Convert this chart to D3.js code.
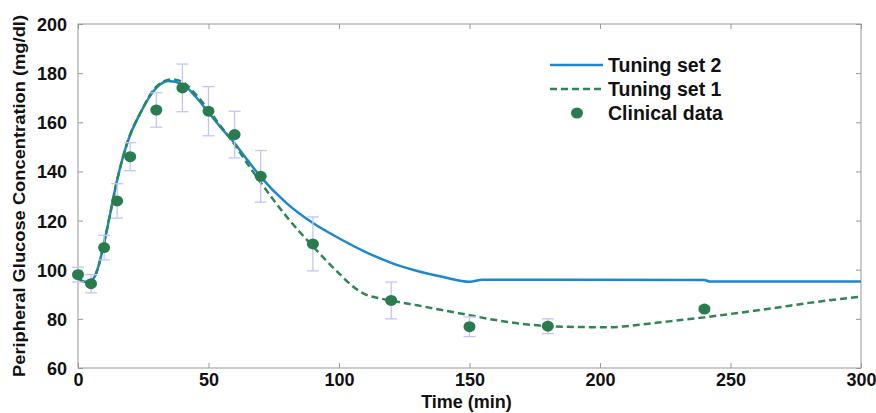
<!DOCTYPE html>
<html>
<head>
<meta charset="utf-8">
<script src="https://cdn.jsdelivr.net/npm/d3@7"></script>
<style>
  body { margin: 0; background: #fff; }
  text { font-family: "Liberation Sans", Arial, sans-serif; font-weight: bold; fill: #111; }
</style>
</head>
<body>
<div id="chart"></div>
<script>
// clinical data (time, mean, error)
const clinTime = [0, 5, 10, 15, 20, 30, 40, 50, 60, 70, 90, 120, 150, 180, 240];
const clinValue = [98, 94.3, 109, 128, 146, 165, 174, 164.5, 155, 138, 110.5, 87.5, 76.8, 77, 84];
const clinErr = [3, 3.7, 5, 7, 5.7, 7, 9.7, 10, 9.5, 10.5, 11, 7.5, 4, 3, 1];

// Tuning set 2 (blue solid)
const set2Time = [0, 2, 4, 6, 8, 10, 12, 15, 19, 24, 30, 34.5, 40, 45, 50, 55, 60, 65, 70, 80, 90, 100, 110, 120, 130, 140, 150, 155, 186, 240, 242, 300];
const set2Value = [97, 95.2, 95, 96.5, 102, 111, 121, 136.5, 152, 164, 174, 176.8, 175.5, 170.5, 164, 157.5, 151.5, 144.5, 137.8, 127, 119, 112.8, 107.3, 102.8, 99.5, 97, 95.1, 95.9, 95.9, 95.8, 95.2, 95.2];

// Tuning set 1 (green dashed)
const set1Time = [0, 2, 4, 6, 8, 10, 12, 15, 19, 24, 30, 36, 40, 45, 50, 55, 60, 65, 70, 80, 90, 100, 105, 110, 115, 120, 130, 140, 150, 160, 170, 180, 190, 204, 210, 220, 230, 240, 250, 266, 280, 300];
const set1Value = [97, 95.2, 95, 96.5, 102, 111, 121, 136.5, 152, 164, 174.5, 177.5, 176.5, 171.5, 165, 158, 151, 143, 135.5, 121.5, 109.5, 98.5, 93.5, 90, 88.5, 87.4, 85.5, 83.5, 81.5, 79.5, 78, 77, 76.7, 76.6, 77, 78.2, 79.4, 80.6, 82, 84.3, 86.5, 89];

const xTicks = [0, 50, 100, 150, 200, 250, 300];
const yTicks = [60, 80, 100, 120, 140, 160, 180, 200];

const W = 876, H = 413;
const margin = {top: 24, right: 15, bottom: 45, left: 78};

const svg = d3.select("#chart").append("svg")
    .attr("width", W)
    .attr("height", H);

const x = d3.scaleLinear().domain([0, 300]).range([margin.left, W - margin.right]);
const y = d3.scaleLinear().domain([60, 200]).range([H - margin.bottom, margin.top]);

// box + inward ticks
const axisColor = "#999";
svg.append("rect")
    .attr("x", x(0)).attr("y", y(200))
    .attr("width", x(300) - x(0)).attr("height", y(60) - y(200))
    .attr("fill", "none").attr("stroke", axisColor).attr("stroke-width", 1);

const tickLen = 5;
const xAxisB = svg.append("g").attr("transform", `translate(0,${y(60)})`)
    .call(d3.axisBottom(x).tickValues(xTicks).tickSizeInner(-tickLen).tickSizeOuter(0).tickPadding(5));
const xAxisT = svg.append("g").attr("transform", `translate(0,${y(200)})`)
    .call(d3.axisTop(x).tickValues(xTicks).tickSizeInner(-tickLen).tickSizeOuter(0).tickFormat(""));
const yAxisL = svg.append("g").attr("transform", `translate(${x(0)},0)`)
    .call(d3.axisLeft(y).tickValues(yTicks).tickSizeInner(-tickLen).tickSizeOuter(0).tickPadding(11));
const yAxisR = svg.append("g").attr("transform", `translate(${x(300)},0)`)
    .call(d3.axisRight(y).tickValues(yTicks).tickSizeInner(-tickLen).tickSizeOuter(0).tickFormat(""));

[xAxisB, xAxisT, yAxisL, yAxisR].forEach(g => {
  g.select(".domain").remove();
  g.selectAll(".tick line").attr("stroke", axisColor);
  g.selectAll(".tick text").attr("font-size", 18).attr("fill", "#111")
    .attr("font-family", "Liberation Sans, Arial, sans-serif").attr("font-weight", "bold");
});
yAxisL.selectAll(".tick text").attr("dy", "0.36em");

// axis titles
svg.append("text")
    .attr("x", x(150) - 3).attr("y", 408)
    .attr("text-anchor", "middle").attr("font-size", 18)
    .text("Time (min)");
svg.append("text")
    .attr("transform", `translate(25,${(15 + 377) / 2}) rotate(-90)`)
    .attr("text-anchor", "middle").attr("font-size", 17)
    .attr("textLength", 362).attr("lengthAdjust", "spacingAndGlyphs")
    .text("Peripheral Glucose Concentration (mg/dl)");

// curves
const line = d3.line().x(d => x(d[0])).y(d => y(d[1])).curve(d3.curveMonotoneX);

svg.append("path")
    .datum(d3.zip(set2Time, set2Value))
    .attr("d", line)
    .attr("fill", "none").attr("stroke", "#1b87d1").attr("stroke-width", 2.5);

svg.append("path")
    .datum(d3.zip(set1Time, set1Value))
    .attr("d", line)
    .attr("fill", "none").attr("stroke", "#2e8655").attr("stroke-width", 2.5)
    .attr("stroke-dasharray", "7,4");

// error bars
const clin = clinTime.map((t, i) => ({t: t, v: clinValue[i], e: clinErr[i]}));
const errColor = "#c4c4fb";
const eb = svg.append("g").selectAll("g").data(clin).join("g");
eb.append("line")
    .attr("x1", d => x(d.t)).attr("x2", d => x(d.t))
    .attr("y1", d => y(d.v - d.e)).attr("y2", d => y(d.v + d.e))
    .attr("stroke", errColor).attr("stroke-width", 1.3);
eb.selectAll(".cap").data(d => [d.v - d.e, d.v + d.e].map(v => ({t: d.t, v: v}))).join("line")
    .attr("x1", d => x(d.t) - 6).attr("x2", d => x(d.t) + 6)
    .attr("y1", d => y(d.v)).attr("y2", d => y(d.v))
    .attr("stroke", errColor).attr("stroke-width", 1.3);

// clinical points
svg.append("g").selectAll("ellipse").data(clin).join("ellipse")
    .attr("cx", d => x(d.t)).attr("cy", d => y(d.v))
    .attr("rx", 6).attr("ry", 5.5)
    .attr("fill", "#2a7c4f");

// legend
const lg = svg.append("g");
const legendItems = ["Tuning set 2", "Tuning set 1", "Clinical data"];
const ly = [65, 89, 113];
lg.append("line").attr("x1", 550).attr("x2", 603).attr("y1", ly[0]).attr("y2", ly[0])
    .attr("stroke", "#1b87d1").attr("stroke-width", 2.5);
lg.append("line").attr("x1", 550).attr("x2", 603).attr("y1", ly[1]).attr("y2", ly[1])
    .attr("stroke", "#2e8655").attr("stroke-width", 2.5).attr("stroke-dasharray", "7,4");
lg.append("ellipse").attr("cx", 577).attr("cy", ly[2]).attr("rx", 6).attr("ry", 5.5).attr("fill", "#2a7c4f");
lg.selectAll("text").data(legendItems).join("text")
    .attr("x", 608).attr("y", (d, i) => ly[i]).attr("dy", "0.36em")
    .attr("font-size", 19.5)
    .text(d => d);
</script>
</body>
</html>
